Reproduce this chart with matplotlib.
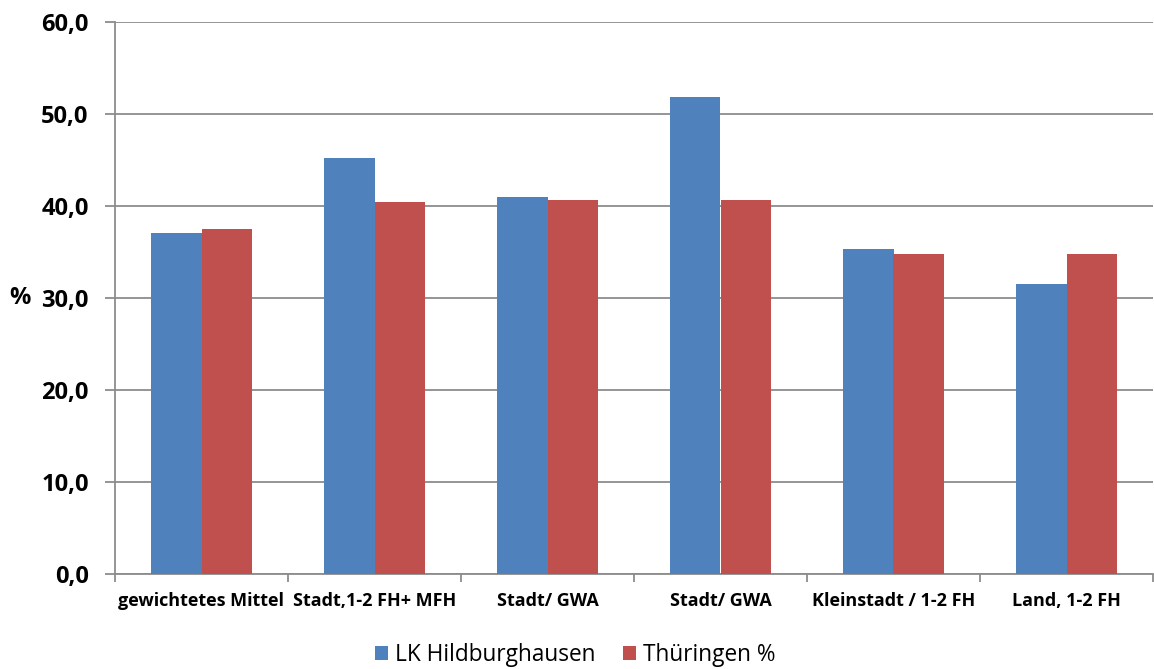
import matplotlib
matplotlib.use("Agg")
import matplotlib.pyplot as plt
import numpy as np

categories = ["gewichtetes Mittel", "Stadt,1-2 FH+ MFH", "Stadt/ GWA", "Stadt/ GWA",
              "Kleinstadt / 1-2 FH", "Land, 1-2 FH"]
lk_hildburghausen = [37.1, 45.2, 41.0, 51.8, 35.3, 31.5]
thueringen = [37.5, 40.4, 40.6, 40.6, 34.8, 34.8]
yticks = [0, 10, 20, 30, 40, 50, 60]
ytick_labels = ["0,0", "10,0", "20,0", "30,0", "40,0", "50,0", "60,0"]

plt.rcParams['font.family'] = ['Open Sans', 'DejaVu Sans']

fig = plt.figure(figsize=(11.54, 6.69), dpi=100)
ax = fig.add_axes([115/1154, 1-574/669, 1038/1154, 552/669])

x = np.arange(len(categories))
w = 0.29
ax.bar(x - w/2, lk_hildburghausen, w, color="#4F81BD", label="LK Hildburghausen", zorder=3)
ax.bar(x + w/2, thueringen, w, color="#C0504D", label="Thüringen %", zorder=3)

ax.set_xlim(-0.5, len(categories) - 0.5)
ax.set_ylim(0, 60)
ax.set_yticks(yticks)
ax.set_yticklabels(ytick_labels, fontsize=17, fontweight='bold')
ax.yaxis.grid(True, color="#8c8c8c", linewidth=1.3, zorder=0)
ax.set_xticks(x)
ax.set_xticklabels(categories, fontsize=13, fontweight='bold')
ax.set_xticks(np.arange(len(categories) + 1) - 0.5, minor=True)
ax.tick_params(axis='x', which='major', length=0, pad=13)
ax.tick_params(axis='x', which='minor', length=6, color="#8c8c8c", width=1.3, direction='out')
ax.tick_params(axis='y', length=7, color="#8c8c8c", width=1.3, direction='out', pad=12)

for s in ['top', 'right']:
    ax.spines[s].set_visible(False)
for s in ['left', 'bottom']:
    ax.spines[s].set_color("#8c8c8c")
    ax.spines[s].set_linewidth(1.3)

fig.text(20/1154, 1-298/669, "%", fontsize=17, fontweight='bold', ha='center', va='center')

leg = fig.legend(loc='center', bbox_to_anchor=(575/1154, 1-655/669), ncol=2, frameon=False,
                 fontsize=16.3, handlelength=0.6, handleheight=0.6, handletextpad=0.3,
                 columnspacing=1.2)

fig.savefig("out.png", dpi=100)
